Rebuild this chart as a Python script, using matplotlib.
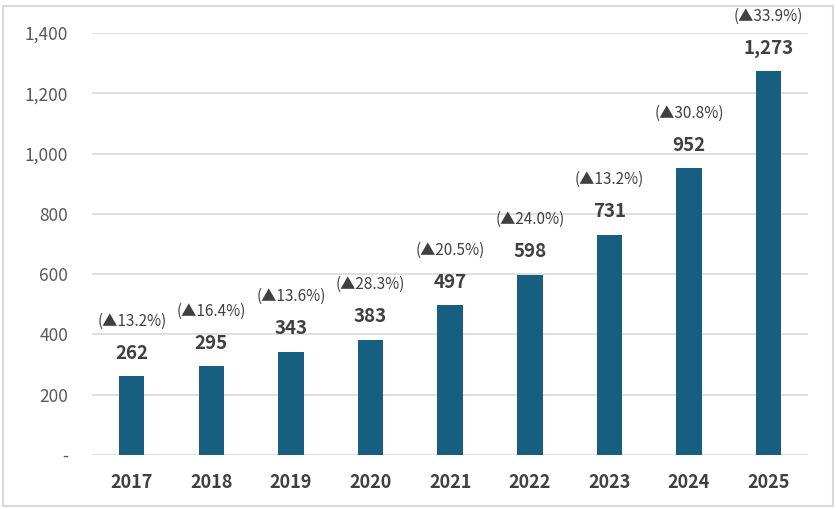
import matplotlib.pyplot as plt
from matplotlib.patches import Rectangle
from matplotlib.ticker import FuncFormatter

years = ['2017', '2018', '2019', '2020', '2021', '2022', '2023', '2024', '2025']
values = [262, 295, 343, 383, 497, 598, 731, 952, 1273]
growth = ['13.2%', '16.4%', '13.6%', '28.3%', '20.5%', '24.0%', '13.2%', '30.8%', '33.9%']

plt.rcParams['font.family'] = ['Noto Sans CJK KR', 'DejaVu Sans']
text_color = '#404040'
bar_color = '#175F80'

fig = plt.figure(figsize=(8.36, 5.09), dpi=100)
ax = fig.add_axes([0.110, 0.106, 0.857, 0.829])

x = range(len(years))
bars = ax.bar(x, values, width=0.32, color=bar_color, zorder=3)

ax.set_xlim(-0.5, len(years) - 0.5)
ax.set_ylim(0, 1400)
ax.set_yticks(range(0, 1401, 200))
ax.yaxis.set_major_formatter(
    FuncFormatter(lambda v, p: '-' if v == 0 else f'{int(v):,}'))
ax.set_xticks(list(x))
ax.set_xticklabels(years, fontsize=13, fontweight='bold', color=text_color)

ax.grid(axis='y', color='#D9D9D9', linewidth=1.2, zorder=0)
for s in ax.spines.values():
    s.set_visible(False)
ax.tick_params(axis='both', length=0)
ax.tick_params(axis='y', labelsize=12.5, labelcolor='#595959', pad=17)
ax.tick_params(axis='x', pad=13)

for i, (v, g) in enumerate(zip(values, growth)):
    ax.annotate(f'{v:,}', (i, v), xytext=(0, 23), textcoords='offset pixels',
                ha='center', va='center', fontsize=13.5, fontweight='bold',
                color=text_color, annotation_clip=False)
    ax.annotate(f'(▲{g})', (i, v), xytext=(0, 55), textcoords='offset pixels',
                ha='center', va='center', fontsize=11,
                color=text_color, annotation_clip=False)

fig.patches.append(Rectangle((0.003, 0.006), 0.993, 0.982,
                             transform=fig.transFigure, fill=False,
                             edgecolor='#D9D9D9', linewidth=1.5))

fig.savefig('out.png', dpi=100)
